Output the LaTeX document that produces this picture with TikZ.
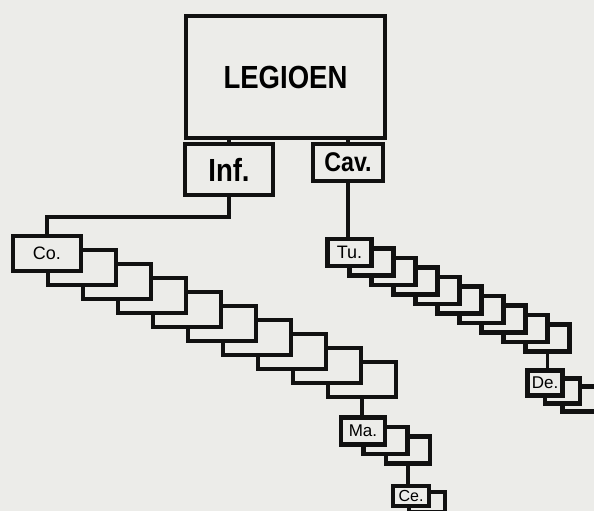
\documentclass[tikz,border=0pt]{standalone}
\usepackage{fontspec}
\setmainfont{Liberation Sans}
\definecolor{paper}{RGB}{236,236,233}
\definecolor{ink}{RGB}{17,17,17}
\newcommand{\narrowlbl}[1]{\scalebox{0.86}[1]{#1}}

\begin{document}
\begin{tikzpicture}[
  x=1pt, y=-1pt,
  unit/.style = {draw=ink, line width=4.5pt, fill=paper, inner sep=0pt},
  big/.style  = {unit, line width=3.8pt, font=\fontsize{32}{32}\selectfont\bfseries},
  coh/.style  = {unit, minimum width=68pt, minimum height=35pt,
                 font=\fontsize{18}{18}\selectfont},
  tur/.style  = {unit, minimum width=44pt, minimum height=27pt,
                 font=\fontsize{18}{18}\selectfont},
  man/.style  = {unit, minimum width=44pt, minimum height=27pt,
                 font=\fontsize{17}{17}\selectfont},
  dec/.style  = {unit, minimum width=35pt, minimum height=25pt,
                 font=\fontsize{17}{17}\selectfont},
  cen/.style  = {unit, minimum width=36pt, minimum height=20pt,
                 font=\fontsize{16}{16}\selectfont},
  conn/.style = {draw=ink, line width=3.8pt}
]
  \fill[paper] (0,0) rectangle (594,511);
  \clip (0,0) rectangle (594,511);

  % Legion and its two arms
  \node[big, minimum width=199pt, minimum height=122pt] (leg) at (285.5,77) {\narrowlbl{LEGIOEN}};
  \node[big, minimum width=88pt, minimum height=51pt] (inf) at (229,169.5) {\narrowlbl{Inf.}};
  \node[big, font=\fontsize{27}{27}\selectfont\bfseries,
        minimum width=70pt, minimum height=37pt] (cav) at (348,162.5) {\narrowlbl{Cav.}};

  % Infantry: cohorts
  \foreach \i in {10,...,2}
    \node[coh] (co\i) at ({47+35*(\i-1)}, {253.5+14*(\i-1)}) {};
  \node[coh] (co1) at (47,253.5) {Co.};

  % Maniples
  \foreach \i in {3,2}
    \node[man] (ma\i) at ({363+22.5*(\i-1)}, {431+9.5*(\i-1)}) {};
  \node[man] (ma1) at (363,431) {Ma.};

  % Centuries
  \node[cen] (ce2) at (427,502) {};
  \node[cen] (ce1) at (411,496) {Ce.};

  % Cavalry: turmae
  \foreach \i in {10,...,2}
    \node[tur] (tu\i) at ({349.5+22*(\i-1)}, {252.5+9.5*(\i-1)}) {};
  \node[tur] (tu1) at (349.5,252.5) {Tu.};

  % Decuriae
  \foreach \i in {3,2}
    \node[dec] (de\i) at ({545+17.5*(\i-1)}, {383+8*(\i-1)}) {};
  \node[dec] (de1) at (545,383) {De.};

  % Connections
  \draw[conn] (leg.south -| inf.north) -- (inf.north);
  \draw[conn] (leg.south -| cav.north) -- (cav.north);
  \draw[conn] (inf.south) -- ++(0,20) -| (co1.north);
  \draw[conn] (cav.south) -- (cav.south |- tu1.north);
  \draw[conn] (co10.south) -- (co10.south |- ma1.north);
  \draw[conn] (ma3.south) -- (ma3.south |- ce1.north);
  \draw[conn] (tu10.south) -- (tu10.south |- de1.north);
\end{tikzpicture}
\end{document}
